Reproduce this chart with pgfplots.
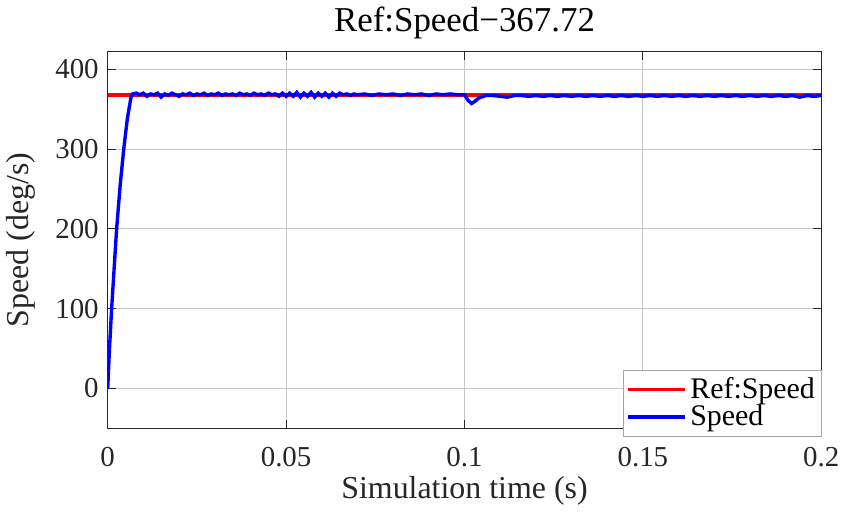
\documentclass[border=0pt]{standalone}
\usepackage{fontspec}
\setmainfont{Liberation Serif}
\usepackage{pgfplots}
\pgfplotsset{compat=1.18}
\definecolor{axgray}{RGB}{38,38,38}
\begin{document}
\begin{tikzpicture}
\begin{axis}[
    width=358pt, height=189pt,
    scale only axis,
    xmin=0, xmax=0.2,
    ymin=-50, ymax=422,
    xtick={0,0.05,0.1,0.15,0.2},
    xticklabels={0,0.05,0.1,0.15,0.2},
    ytick={0,100,200,300,400},
    grid=major,
    grid style={gray!45, line width=0.5pt},
    axis line style={axgray, line width=0.6pt},
    tick style={axgray, line width=0.5pt},
    tick align=inside,
    major tick length=4pt,
    ticklabel style={font=\fontsize{14.5}{16}\selectfont, text=axgray},
    yticklabel style={xshift=-1pt},
    xticklabel style={yshift=-6pt},
    /pgf/number format/assume math mode=true,
    xlabel={Simulation time (s)},
    ylabel={Speed (deg/s)},
    label style={font=\fontsize{16}{18}\selectfont, text=axgray},
    xlabel style={yshift=2pt},
    ylabel style={yshift=3pt},
    title={Ref:Speed−367.72},
    title style={font=\fontsize{17.5}{19}\selectfont, yshift=-3pt},
    legend style={at={(rel axis cs:1,0)}, anchor=south east, yshift=-4pt, xshift=0.5pt,
        draw=gray!70, fill=white, font=\fontsize{15}{17}\selectfont,
        inner sep=1.5pt, row sep=-2pt},
    legend cell align=left,
    legend image code/.code={\draw[#1] (0cm,0cm) -- (1.0cm,0cm);},
]
\addplot[red, line width=1.7pt] coordinates {(0,367.72) (0.2,367.72)};
\addlegendentry{Ref:Speed}
\addplot[blue, line width=1.7pt] coordinates {
(0,0) (0.0005,50) (0.0011,100) (0.0018,150) (0.0025,200) (0.0035,255) (0.0045,300)
(0.0055,338) (0.0065,364) (0.007,369)
(0.008,370) (0.009,368) (0.010,370) (0.011,366) (0.012,369) (0.013,368) (0.014,370)
(0.015,365) (0.016,369) (0.017,367) (0.018,370) (0.019,368) (0.020,366) (0.021,369)
(0.022,368) (0.023,370) (0.024,367) (0.025,369) (0.026,368) (0.027,370) (0.028,367)
(0.029,369) (0.030,368) (0.031,370) (0.032,367) (0.033,369) (0.034,368) (0.035,369)
(0.036,367) (0.037,370) (0.038,368) (0.039,369) (0.040,367) (0.041,370) (0.042,368)
(0.043,369) (0.044,367) (0.045,370) (0.046,368) (0.047,369) (0.048,366) (0.049,370)
(0.050,366) (0.051,370) (0.052,366) (0.053,371) (0.054,365) (0.055,370) (0.056,366)
(0.057,371) (0.058,365) (0.059,370) (0.060,366) (0.061,370) (0.062,365) (0.063,370)
(0.064,366) (0.065,370) (0.066,368) (0.067,369) (0.068,367) (0.069,369) (0.070,368)
(0.072,369) (0.074,367) (0.076,369) (0.078,368) (0.080,369) (0.082,367) (0.084,369)
(0.086,368) (0.088,369) (0.090,367) (0.092,369) (0.094,368) (0.096,369) (0.098,368)
(0.100,368) (0.101,361) (0.102,357) (0.103,360) (0.104,364) (0.106,367) (0.108,367)
(0.110,366) (0.112,365) (0.114,367) (0.116,367) (0.118,366) (0.120,367) (0.122,366)
(0.124,367) (0.126,366) (0.128,367) (0.130,366) (0.132,367) (0.134,366) (0.136,367)
(0.138,366) (0.140,367) (0.142,366) (0.144,367) (0.146,366) (0.148,367) (0.150,366)
(0.152,367) (0.154,366) (0.156,367) (0.158,366) (0.160,367) (0.162,366) (0.164,367)
(0.166,366) (0.168,367) (0.170,366) (0.172,367) (0.174,366) (0.176,367) (0.178,366)
(0.180,367) (0.182,366) (0.184,367) (0.186,366) (0.188,367) (0.190,366) (0.192,367)
(0.194,365) (0.196,367) (0.198,366) (0.200,367)
};
\addlegendentry{Speed}
\end{axis}
\end{tikzpicture}
\end{document}
